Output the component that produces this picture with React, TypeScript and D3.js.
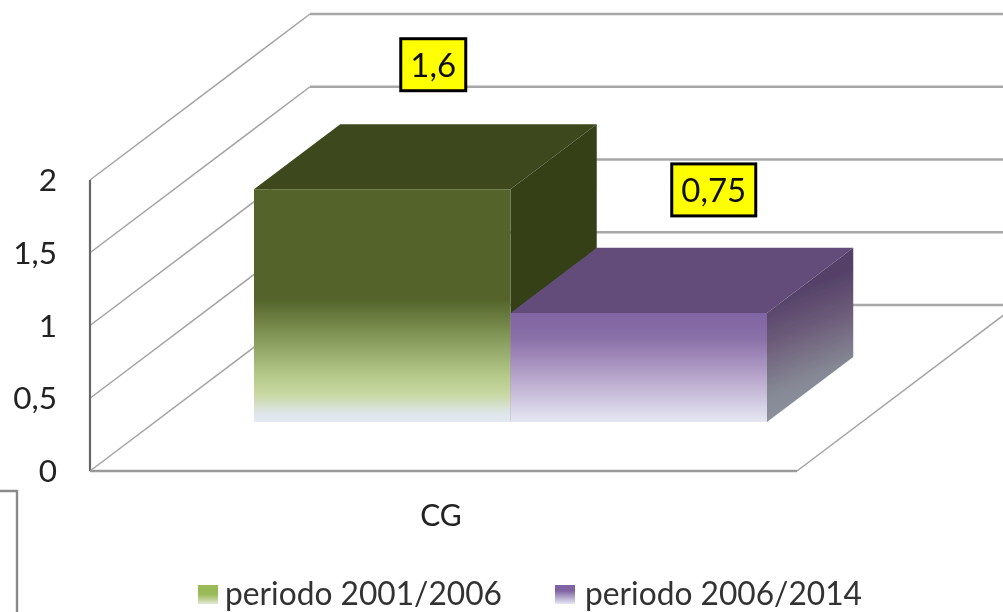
import React from "react";
import * as d3 from "d3";

const categories = ["CG"];
const seriesNames = ["periodo 2001/2006", "periodo 2006/2014"];
const seriesValues = [1.6, 0.75];
const valueLabels = ["1,6", "0,75"];
const yTicks = [0, 0.5, 1, 1.5, 2];
const yTickLabels = ["0", "0,5", "1", "1,5", "2"];

const FONT = "Lato, 'Open Sans', sans-serif";
const W = 1003;
const H = 612;

const y = d3.scaleLinear().domain([0, 2]).range([471, 180]);
const depthX = d3.scaleLinear().domain([0, 1]).range([0, 220]);
const depthY = d3.scaleLinear().domain([0, 1]).range([0, -166]);
const D0 = 0.295;
const D1 = 0.687;
const xBand = d3
  .scaleBand()
  .domain(seriesNames)
  .range([254 - depthX(D0), 767 - depthX(D0)])
  .padding(0);
const xCat = d3.scaleBand().domain(categories).range([90, 797]);

const project = (x: number, v: number, d: number): [number, number] => [
  x + depthX(d),
  y(v) + depthY(d),
];
const line = d3.line();
const poly = (pts: [number, number][]) => line(pts) + "Z";

const palette = [
  { front: "url(#gFront)", top: "#3e4a1e", side: "#344018", swatch: "url(#gSw)" },
  { front: "url(#pFront)", top: "#634c7a", side: "url(#pSide)", swatch: "url(#pSw)" },
];
const labelBoxes = [
  { w: 65, dx: 51, dy: -124.5 },
  { w: 84, dx: 75, dy: -123 },
];
const legendPos = [
  { sx: 198, tx: 225 },
  { sx: 555, tx: 585 },
];

export default function App() {
  const x0 = xCat.range()[0];
  const x1 = xCat.range()[1];
  return (
    <svg
      width={W}
      height={H}
      viewBox={`0 0 ${W} ${H}`}
      style={{ position: "absolute", left: 0, top: 0, display: "block", background: "#fff" }}
    >
      <defs>
        <filter id="soft" x="-5%" y="-5%" width="110%" height="110%">
          <feGaussianBlur stdDeviation="0.7" />
        </filter>
        <linearGradient id="gFront" gradientUnits="userSpaceOnUse" x1="0" x2="0" y1="189" y2="422">
          <stop offset="0" stopColor="#536329" />
          <stop offset="0.47" stopColor="#536329" />
          <stop offset="0.62" stopColor="#7f9354" />
          <stop offset="0.8" stopColor="#b4c98a" />
          <stop offset="0.88" stopColor="#c8d8a2" />
          <stop offset="0.97" stopColor="#e0e7ee" />
          <stop offset="1" stopColor="#e2e9f3" />
        </linearGradient>
        <linearGradient id="pFront" gradientUnits="userSpaceOnUse" x1="0" x2="0" y1="311" y2="422">
          <stop offset="0" stopColor="#7f64a2" />
          <stop offset="0.25" stopColor="#8a70a8" />
          <stop offset="0.6" stopColor="#b8a6cc" />
          <stop offset="1" stopColor="#e6e7f3" />
        </linearGradient>
        <linearGradient id="pSide" gradientUnits="userSpaceOnUse" x1="770" x2="810" y1="300" y2="400">
          <stop offset="0" stopColor="#544068" />
          <stop offset="0.35" stopColor="#6b5a78" />
          <stop offset="0.8" stopColor="#858794" />
          <stop offset="1" stopColor="#8a8f9c" />
        </linearGradient>
        <linearGradient id="gSw" x1="0" x2="0" y1="0" y2="1">
          <stop offset="0.5" stopColor="#9bbb59" />
          <stop offset="1" stopColor="#e2e9d4" />
        </linearGradient>
        <linearGradient id="pSw" x1="0" x2="0" y1="0" y2="1">
          <stop offset="0.3" stopColor="#7f64a2" />
          <stop offset="1" stopColor="#e6e7f3" />
        </linearGradient>
      </defs>

      <g filter="url(#soft)">
        {yTicks.map((t) => (
          <g key={t} fill="none">
            <path d={line([project(x0, t, 0), project(x0, t, 1)])!} stroke="#a3a3a3" strokeWidth={1.5} />
            <path d={line([project(x0, t, 1), project(x1, t, 1)])!} stroke="#a8a8a8" strokeWidth={2.4} />
          </g>
        ))}
        <path d={line([project(x1, 0, 0), project(x1, 0, 1)])!} fill="none" stroke="#a3a3a3" strokeWidth={1.5} />
        <path d={line([[x0, y(2)], [x0, y(0)]])!} stroke="#666" strokeWidth={2.2} fill="none" />
        <path d={line([[x0, y(0)], [x1, y(0)]])!} stroke="#9a9a9a" strokeWidth={2.4} fill="none" />

        {seriesNames.map((s, i) => {
          const a = xBand(s)!;
          const b = a + xBand.bandwidth();
          const v = seriesValues[i];
          const p = palette[i];
          return (
            <g key={s}>
              <path d={poly([project(a, v, D0), project(b, v, D0), project(b, v, D1), project(a, v, D1)])} fill={p.top} />
              <path d={poly([project(b, v, D0), project(b, v, D1), project(b, 0, D1), project(b, 0, D0)])} fill={p.side} />
              <path d={poly([project(a, v, D0), project(b, v, D0), project(b, 0, D0), project(a, 0, D0)])} fill={p.front} />
            </g>
          );
        })}

        <path d="M0,491H17V612" fill="none" stroke="#8a8a8a" strokeWidth={2.4} />

        {seriesNames.map((s, i) => {
          const a = xBand(s)!;
          const b = a + xBand.bandwidth();
          const [px, py] = project((a + b) / 2, seriesValues[i], D0);
          const box = labelBoxes[i];
          const cx = px + box.dx;
          const cy = py + box.dy;
          return (
            <g key={s}>
              <rect x={cx - box.w / 2} y={cy - 26} width={box.w} height={52} fill="#ffff00" stroke="#000" strokeWidth={3} />
              <text x={cx} y={cy + 12} textAnchor="middle" fontFamily={FONT} fontSize={33} fill="#111">
                {valueLabels[i]}
              </text>
            </g>
          );
        })}

        {yTicks.map((t, i) => (
          <text key={t} x={57} y={y(t) + 11} textAnchor="end" fontFamily={FONT} fontSize={31.5} fill="#222">
            {yTickLabels[i]}
          </text>
        ))}

        <text x={441} y={526} textAnchor="middle" fontFamily={FONT} fontSize={30} fill="#222">
          {categories[0]}
        </text>

        {seriesNames.map((s, i) => (
          <g key={s}>
            <rect x={legendPos[i].sx} y={585} width={20} height={19} fill={palette[i].swatch} />
            <text x={legendPos[i].tx} y={605} fontFamily={FONT} fontSize={32} fill="#333" textLength={277} lengthAdjust="spacingAndGlyphs">
              {s}
            </text>
          </g>
        ))}
      </g>
    </svg>
  );
}
